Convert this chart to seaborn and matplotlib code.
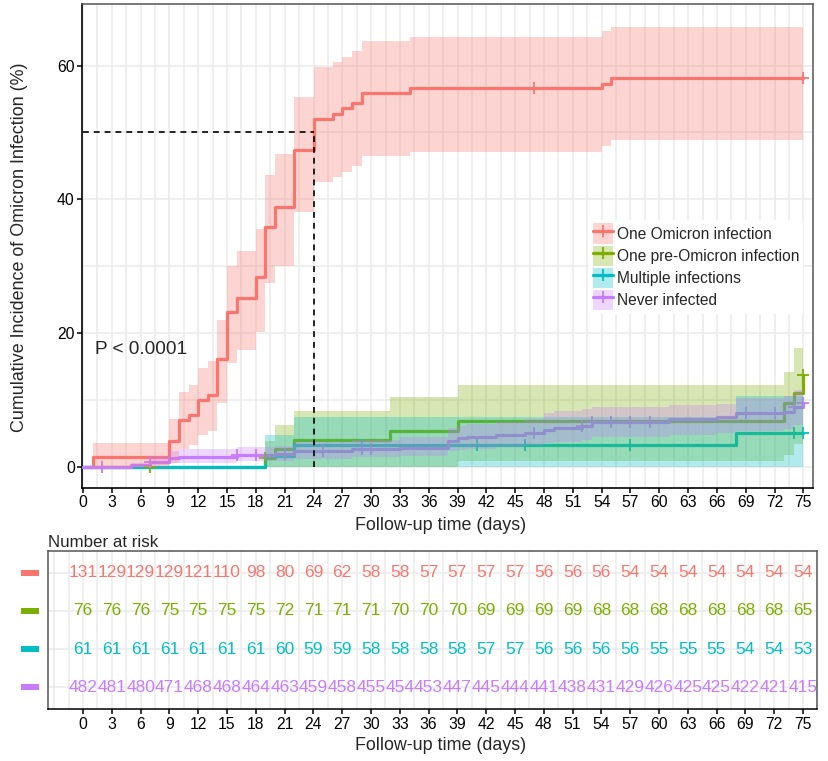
import numpy as np
import pandas as pd
import matplotlib
matplotlib.use('Agg')
import matplotlib.pyplot as plt
import matplotlib.transforms as mtransforms
from matplotlib.patches import Patch, Rectangle
from matplotlib.lines import Line2D
from matplotlib.ticker import FixedLocator
import seaborn as sns

sns.set_theme(style='whitegrid')
plt.rcParams['font.family'] = ['Liberation Sans', 'DejaVu Sans']

groups = ['One Omicron infection', 'One pre-Omicron infection',
          'Multiple infections', 'Never infected']
colors = ['#F8766D', '#7CAE00', '#00BFC4', '#C77CFF']

# One Omicron infection
omi_time = [0, 1, 9, 10, 11, 12, 13, 14, 15, 16, 18, 19, 20, 22, 24, 26, 27, 28, 29, 34, 54, 55, 75]
omi_est = [0, 1.5, 3.9, 7.0, 7.8, 10.0, 10.7, 16.1, 23.1, 25.2, 28.3, 35.9, 38.9, 47.4, 52.0,
           52.8, 53.6, 54.4, 55.9, 56.6, 57.3, 58.1, 58.1]
omi_low = [0, 0, 0.5, 2.6, 3.2, 4.8, 5.3, 9.5, 15.5, 17.5, 20.2, 27.4, 30.0, 38.1, 42.6,
           43.4, 44.1, 44.9, 46.4, 47.1, 48.0, 48.8, 48.8]
omi_up = [0, 3.6, 7.2, 11.2, 12.2, 14.8, 15.8, 22.0, 30.0, 32.2, 35.6, 43.6, 46.8, 55.3, 59.8,
          60.6, 61.3, 62.1, 63.6, 64.3, 65.1, 65.8, 65.8]
omi_cens = [47, 75]

# One pre-Omicron infection
pre_time = [0, 19, 20, 22, 32, 39, 73, 74, 75]
pre_est = [0, 1.3, 2.7, 4.0, 5.4, 6.8, 9.5, 11.0, 13.7]
pre_low = [0, 0, 0, 0, 0, 0.8, 1.7, 3.4, 3.4]
pre_up = [0, 3.9, 6.3, 8.4, 10.4, 12.2, 14.1, 17.7, 17.7]
pre_cens = [7, 19, 75]

# Multiple infections
mult_time = [0, 19, 22, 68, 75]
mult_est = [0, 1.6, 3.3, 5.1, 5.1]
mult_low = [0, 0, 0, 0, 0]
mult_up = [0, 4.7, 7.5, 10.6, 10.6]
mult_cens = [29, 41, 46, 57, 74, 75]

# Never infected
nev_time = [0, 5, 7, 9, 10, 16, 20, 22, 28, 33, 38, 39, 40, 43, 46, 48, 49, 52, 53, 61, 66, 68, 73, 74, 75]
nev_est = [0, 0.2, 0.75, 1.25, 1.5, 1.75, 1.9, 2.4, 2.65, 2.8, 3.9, 4.25, 4.5, 4.75, 5.1,
           5.5, 5.75, 6.1, 6.7, 7.2, 7.5, 8.0, 8.2, 9.0, 9.5]
nev_low = [0, 0, 0.2, 0.5, 0.6, 0.8, 0.9, 1.2, 1.4, 1.6, 2.3, 2.5, 2.7, 2.9, 3.2,
           3.5, 3.7, 4.0, 4.4, 4.8, 5.0, 5.4, 5.6, 6.2, 6.2]
nev_up = [0, 0.6, 1.6, 2.3, 2.6, 2.9, 3.1, 3.7, 4.0, 4.4, 5.8, 6.1, 6.4, 6.7, 7.1,
          8.0, 8.3, 8.6, 9.0, 9.2, 9.4, 10.3, 10.5, 11.5, 11.5]
nev_cens = [2, 7, 16, 18, 21, 25, 29, 30, 47, 52, 53, 55, 57, 59, 69, 72, 74, 75]

risk_times = list(range(0, 76, 3))
risk_omi = [131, 129, 129, 129, 121, 110, 98, 80, 69, 62, 58, 58, 57, 57, 57, 57, 56, 56, 56,
            54, 54, 54, 54, 54, 54, 54]
risk_pre = [76, 76, 76, 75, 75, 75, 75, 72, 71, 71, 71, 70, 70, 70, 69, 69, 69, 69, 68, 68,
            68, 68, 68, 68, 68, 65]
risk_mult = [61, 61, 61, 61, 61, 61, 61, 60, 59, 59, 58, 58, 58, 58, 57, 57, 56, 56, 56, 56,
             55, 55, 55, 54, 54, 53]
risk_nev = [482, 481, 480, 471, 468, 468, 464, 463, 459, 458, 455, 454, 453, 447, 445, 444,
            441, 438, 431, 429, 426, 425, 425, 422, 421, 415]

curves = [
    (omi_time, omi_est, omi_low, omi_up, omi_cens),
    (pre_time, pre_est, pre_low, pre_up, pre_cens),
    (mult_time, mult_est, mult_low, mult_up, mult_cens),
    (nev_time, nev_est, nev_low, nev_up, nev_cens),
]
risks = [risk_omi, risk_pre, risk_mult, risk_nev]

df = pd.concat([pd.DataFrame({'time': c[0], 'est': c[1], 'group': g})
                for c, g in zip(curves, groups)], ignore_index=True)

W, H = 829, 761
fig = plt.figure(figsize=(W / 100, H / 100), dpi=100)
ax = fig.add_axes([82.5 / W, 1 - 487.7 / H, (813 - 82.5) / W, (487.7 - 4) / H])
ax2 = fig.add_axes([47.7 / W, 1 - 709.3 / H, (817.3 - 47.7) / W, (709.3 - 550.7) / H])

grid_kw = dict(color='#EBEBEB', linewidth=1.1)

# ---- main curves ----
sns.lineplot(data=df, x='time', y='est', hue='group', hue_order=groups, palette=colors,
             drawstyle='steps-post', estimator=None, linewidth=2.3, legend=False,
             ax=ax, zorder=3)
for (t, est, lo, up, cens), col in zip(curves, colors):
    t = np.array(t, dtype=float)
    est = np.array(est)
    idx = np.searchsorted(t, cens, side='right') - 1
    ax.plot(cens, est[idx], linestyle='none', marker='+', ms=8, mew=1.3, color=col, zorder=3)
# ribbons sit on top of the lines, as in the original
for (t, est, lo, up, cens), col in zip(curves, colors):
    ax.fill_between(t, lo, up, step='post', color=col, alpha=0.3, linewidth=0, zorder=4)

# median line
ax.plot([0, 24], [50, 50], color='black', ls=(0, (3.5, 3)), lw=1.2, zorder=5)
ax.plot([24, 24], [0, 50], color='black', ls=(0, (3.5, 3)), lw=1.2, zorder=5)

ax.text(1.3, 17.5, 'P < 0.0001', fontsize=13.7, va='center', ha='left')

ax.set_xlim(-0.05, 76.0)
ax.set_ylim(-3.14, 69.2)
ax.xaxis.set_major_locator(FixedLocator(risk_times))
ax.xaxis.set_minor_locator(FixedLocator(np.arange(1.5, 76, 3)))
ax.yaxis.set_major_locator(FixedLocator([0, 20, 40, 60]))
ax.yaxis.set_minor_locator(FixedLocator([10, 30, 50]))
ax.grid(True, which='both', **grid_kw)
ax.set_axisbelow(True)
ax.set_xlabel('')
ax.set_ylabel('')
ax.tick_params(which='major', direction='out', length=3.5, width=1.1, colors='black',
               labelsize=11.3, pad=2, bottom=True, left=True)
ax.tick_params(which='minor', length=0)
for s in ['top', 'right']:
    ax.spines[s].set_color('#555555')
    ax.spines[s].set_linewidth(1.1)
for s in ['left', 'bottom']:
    ax.spines[s].set_color('black')
    ax.spines[s].set_linewidth(1.2)

handles = [(Patch(facecolor=c, alpha=0.3, edgecolor='none'),
            Line2D([], [], color=c, lw=2.3, marker='+', ms=8, mew=1.3)) for c in colors]
leg = ax.legend(handles, groups, loc='upper left',
                bbox_to_anchor=(589 / W, 1 - 219.5 / H), bbox_transform=fig.transFigure,
                fontsize=11.2, frameon=True, fancybox=False, framealpha=1,
                facecolor='white', edgecolor='none', handlelength=1.3, handleheight=1.63,
                labelspacing=0.12, handletextpad=0.25, borderpad=0.25, borderaxespad=0)

fig.text(441 / W, 1 - 526 / H, 'Follow-up time (days)', ha='center', va='center', fontsize=12.9)
fig.text(20 / W, 1 - 247 / H, 'Cumulative Incidence of Omicron Infection (%)', rotation=90,
         ha='center', va='center', fontsize=12.9)

# ---- risk table ----
for row, (vals, col) in enumerate(zip(risks, colors), start=1):
    for t, n in zip(risk_times, vals):
        ax2.text(t, row, str(n), ha='center', va='center', fontsize=12.5, color=col)

ax2.set_xlim(-3.68, 76.5)
ax2.set_ylim(4.58, 0.42)
ax2.xaxis.set_major_locator(FixedLocator(risk_times))
ax2.xaxis.set_minor_locator(FixedLocator([-3] + list(np.arange(-1.5, 77, 3))))
ax2.yaxis.set_major_locator(FixedLocator([1, 2, 3, 4]))
ax2.set_yticklabels([])
ax2.grid(True, which='both', axis='x', **grid_kw)
ax2.grid(True, which='major', axis='y', **grid_kw)
ax2.set_axisbelow(True)
ax2.tick_params(axis='x', which='major', direction='out', length=3.5, width=1.1,
                colors='black', labelsize=11.3, pad=2, bottom=True)
ax2.tick_params(which='minor', length=0)
ax2.tick_params(axis='y', length=0)
for s in ax2.spines.values():
    s.set_color('#555555')
    s.set_linewidth(1.1)
ax2.spines['bottom'].set_color('black')

trans = mtransforms.blended_transform_factory(fig.transFigure, ax2.transData)
for row, col in enumerate(colors, start=1):
    ax2.add_patch(Rectangle((21 / W, row - 0.075), 18 / W, 0.15, transform=trans,
                            color=col, clip_on=False, linewidth=0))

fig.text(47.7 / W, 1 - 547 / H, 'Number at risk', ha='left', va='baseline', fontsize=12.2)
fig.text(441 / W, 1 - 746 / H, 'Follow-up time (days)', ha='center', va='center', fontsize=12.9)

fig.savefig('out.png', dpi=100)
